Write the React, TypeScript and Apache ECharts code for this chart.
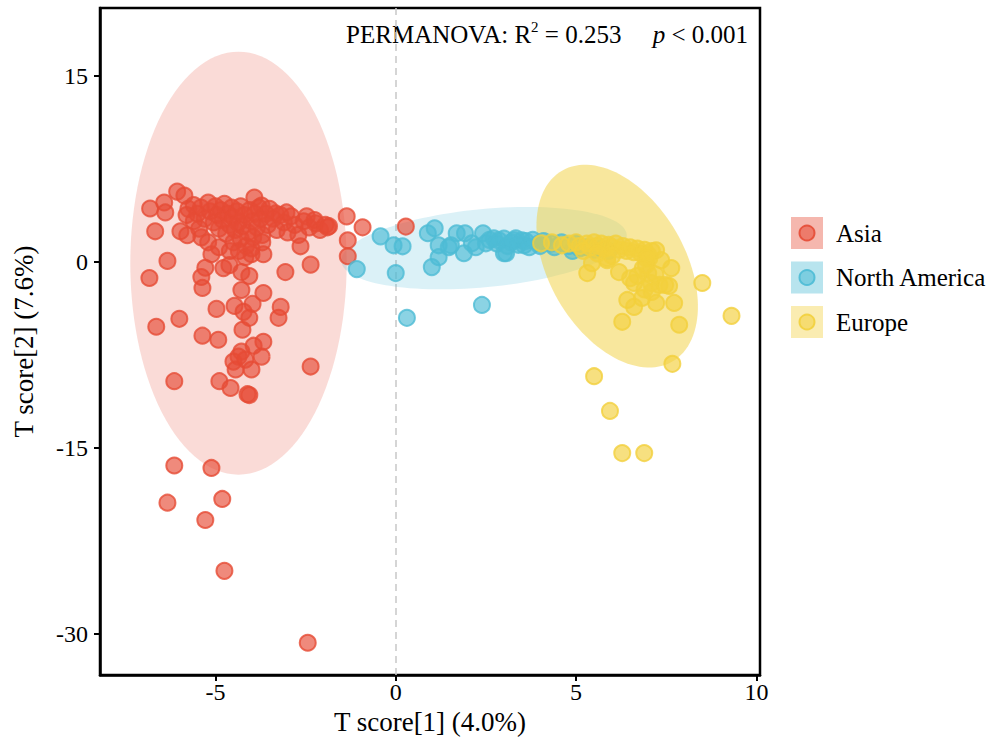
import React, { useEffect, useRef } from "react";
import * as echarts from "echarts";

const xTicks = [-5, 0, 5, 10];
const yTicks = [-30, -15, 0, 15];
const groups = ["Asia", "North America", "Europe"];
const baseRgb = ["230,75,53", "77,187,213", "242,208,60"];

const asiaPoints: number[][] = [
  [-6.06, 5.69], [-5.86, 5.37], [-6.81, 4.33], [-6.42, 4.81], [-6.39, 4.01], [-6.67, 2.49], [-6.33, 0.1], [-6.83, -1.28],
  [-5.97, 2.49], [-5.78, 2.17], [-5.39, 2.0], [-3.92, 5.21], [-3.72, 4.57], [-3.33, 3.93], [-3.03, 4.01], [-2.47, 3.69],
  [-2.22, 3.13], [-1.89, 2.81], [-1.36, 3.69], [-0.92, 2.81], [-1.33, 1.76], [-1.33, 0.48], [0.28, 2.87], [-2.64, 1.28],
  [-2.36, -0.2], [-3.06, -0.8], [-3.67, 0.64], [-4.0, 0.64], [-4.17, 0.4], [-5.11, 0.64], [-5.28, -0.45], [-5.39, -1.2],
  [-5.36, -2.08], [-4.78, -0.48], [-4.61, -0.24], [-4.28, -0.8], [-4.06, -1.12], [-4.28, -2.25], [-3.67, -2.49],
  [-4.47, -3.53], [-3.97, -3.37], [-4.97, -3.77], [-4.22, -4.01], [-4.06, -4.49], [-3.19, -3.61], [-3.25, -4.49],
  [-4.25, -5.45], [-6.0, -4.57], [-6.64, -5.21], [-5.36, -5.93], [-4.92, -6.26], [-3.67, -6.42], [-3.94, -6.74],
  [-4.28, -7.22], [-4.36, -7.62], [-4.5, -8.02], [-4.17, -7.86], [-3.72, -7.62], [-4.44, -8.66], [-4.0, -8.66],
  [-2.36, -8.42], [-6.14, -9.6], [-4.89, -9.6], [-4.58, -10.15], [-4.11, -10.65], [-4.06, -10.72],
  [-6.14, -16.4], [-5.11, -16.6], [-6.33, -19.4], [-4.81, -19.1], [-5.28, -20.8], [-4.75, -24.9], [-2.44, -30.7],
  [-5.75, 4.3], [-5.6, 4.6], [-5.5, 3.9], [-5.4, 4.4], [-5.3, 3.5], [-5.2, 4.8], [-5.15, 4.1], [-5.05, 3.2],
  [-5.0, 4.5], [-4.95, 3.8], [-4.9, 2.7], [-4.85, 4.2], [-4.8, 3.4], [-4.75, 4.7], [-4.7, 2.3], [-4.65, 3.9],
  [-4.6, 3.0], [-4.55, 4.4], [-4.5, 1.6], [-4.5, 3.6], [-4.45, 2.6], [-4.4, 4.1], [-4.35, 3.2], [-4.3, 1.9],
  [-4.3, 4.5], [-4.25, 2.9], [-4.2, 3.8], [-4.15, 1.3], [-4.1, 2.4], [-4.05, 4.2], [-4.0, 3.3], [-3.95, 2.0],
  [-3.9, 3.9], [-3.85, 2.8], [-3.8, 4.4], [-3.75, 3.5], [-3.7, 2.2], [-3.6, 3.9], [-3.55, 3.0], [-3.5, 4.3],
  [-3.4, 3.5], [-3.3, 2.6], [-3.2, 3.8], [-3.1, 3.2], [-3.0, 2.4], [-2.9, 3.7], [-2.8, 3.0], [-2.7, 2.2],
  [-2.55, 3.3], [-2.4, 2.8], [-2.25, 3.4], [-2.1, 2.6], [-1.95, 3.0], [-1.85, 2.9], [-5.6, 3.3], [-5.8, 3.8],
  [-5.45, 2.7], [-4.6, 0.9], [-4.35, 0.9], [-4.0, 1.1], [-3.7, 1.6], [-5.2, 1.6], [-4.9, 1.2],
];

const naPoints: number[][] = [
  [-0.42, 2.08], [-1.08, -0.56], [-0.06, 1.36], [0.19, 1.28], [0.0, -0.88], [0.31, -4.49], [0.89, 2.33], [1.08, 2.73],
  [1.19, 1.36], [1.19, 0.4], [1.0, -0.4], [1.53, 1.36], [1.69, 2.33], [1.92, 2.33], [1.89, 0.72], [2.11, 1.52],
  [2.42, 2.33], [2.5, 1.52], [2.72, 1.92], [3.0, 0.72], [3.28, 1.76], [3.5, 1.76], [3.56, 1.36], [2.39, -3.45],
  [1.47, 1.2], [2.22, 1.2], [2.86, 1.76], [3.06, 0.72], [3.33, 1.92], [3.97, 1.52],
  [2.6, 1.8], [2.8, 1.5], [3.0, 1.9], [3.1, 1.3], [3.2, 1.6], [3.4, 1.4], [3.6, 1.7], [3.7, 1.2], [3.8, 1.8],
  [4.0, 1.3], [4.1, 1.7], [4.3, 1.5], [4.4, 1.2], [4.6, 1.6], [4.8, 1.3], [5.0, 1.5], [5.1, 1.1], [4.9, 0.9],
  [5.3, 1.2], [5.5, 1.0], [5.7, 1.1], [5.9, 0.9],
];

const euPoints: number[][] = [
  [4.03, 1.52], [4.33, 1.6], [4.61, 1.36], [5.44, -0.08], [5.31, -0.88], [5.86, 0.16], [6.19, -0.8], [7.22, 0.96],
  [7.36, 0.16], [7.64, -0.48], [6.94, -0.24], [6.61, -1.68], [7.08, -1.68], [7.31, -1.84], [7.58, -1.92],
  [6.42, -3.05], [6.61, -3.61], [6.83, -2.89], [7.22, -3.29], [7.72, -3.29], [6.28, -4.81], [7.86, -5.05],
  [8.5, -1.68], [9.31, -4.33], [7.67, -8.2], [5.5, -9.2], [5.94, -12.0], [6.28, -15.4], [6.89, -15.4],
  [5.86, 0.32], [7.03, 0.32], [7.47, -1.84],
  [4.8, 1.5], [5.0, 1.6], [5.1, 1.3], [5.3, 1.5], [5.4, 1.2], [5.5, 1.6], [5.6, 1.3], [5.7, 1.5], [5.8, 1.1],
  [5.9, 1.4], [6.0, 1.2], [6.1, 1.5], [6.2, 1.0], [6.3, 1.3], [6.4, 0.9], [6.5, 1.2], [6.6, 0.8], [6.7, 1.1],
  [6.8, 0.7], [6.9, 1.0], [7.0, 0.6], [7.1, 0.9], [6.95, 0.3], [6.85, -0.5], [7.0, -0.9], [6.7, -1.1],
  [6.9, -2.2], [7.2, -1.0], [7.1, -2.4], [6.5, -1.3], [6.0, 0.5], [5.2, 0.9], [5.6, 0.7],
];

// confidence ellipses: [centerX, centerY, axisA_x, axisA_y, axisB_x, axisB_y] in data units
const asiaEllipse = [-4.36, -0.08, 3.0, 0, 0, 17.06];
const naEllipse = [2.45, 1.13, 3.955, 1.09, 0.1, -3.14];
const euEllipse = [6.14, -0.32, 1.528, -7.7, 1.636, 2.75];
const ellipseAlpha = [0.2, 0.2, 0.5];

const FONT = "'Liberation Serif', 'Times New Roman', serif";

export default function App() {
  const ref = useRef<HTMLDivElement>(null);
  useEffect(() => {
    if (!ref.current) return;
    const chart = echarts.init(ref.current, null, { renderer: "svg" });
    const pointSets = [asiaPoints, naPoints, euPoints];
    const ellipseData = [asiaEllipse, naEllipse, euEllipse];

    const scatterSeries = groups.map((g, i) => ({
      name: g,
      type: "scatter",
      data: pointSets[i],
      symbol: "circle",
      symbolSize: 16,
      z: 3,
      itemStyle: {
        color: `rgba(${baseRgb[i]},0.65)`,
        borderColor: `rgba(${baseRgb[i]},0.8)`,
        borderWidth: 2,
        opacity: 1,
      },
      ...(i === 0
        ? {
            markLine: {
              silent: true,
              symbol: ["none", "none"],
              label: { show: false },
              lineStyle: { color: "#c8c8c8", type: [7, 5], width: 1.5 },
              data: [{ xAxis: 0 }],
              z: 1,
            },
          }
        : {}),
    }));

    const legendGraphics: any[] = [];
    groups.forEach((g, i) => {
      const cy = 233 + i * 44.5;
      legendGraphics.push({
        type: "rect",
        shape: { x: 791, y: cy - 16, width: 32, height: 32 },
        style: { fill: `rgba(${baseRgb[i]},0.4)` },
      });
      legendGraphics.push({
        type: "circle",
        shape: { cx: 807, cy, r: 7.5 },
        style: { fill: `rgba(${baseRgb[i]},0.55)`, stroke: `rgba(${baseRgb[i]},0.9)`, lineWidth: 2 },
      });
      legendGraphics.push({
        type: "text",
        x: 836,
        y: cy,
        style: { text: g, font: `25px ${FONT}`, fill: "#000", textVerticalAlign: "middle", verticalAlign: "middle" },
      });
    });

    chart.setOption({
      animation: false,
      backgroundColor: "#fff",
      grid: { left: 100, right: 234, top: 8, bottom: 72, show: true, borderColor: "#000", borderWidth: 2.5, containLabel: false },
      xAxis: {
        type: "value",
        min: -8.2,
        max: 10.1,
        name: "T score[1] (4.0%)",
        nameLocation: "middle",
        nameGap: 32,
        nameTextStyle: { fontFamily: FONT, fontSize: 27, color: "#000" },
        splitLine: { show: false },
        axisLine: { onZero: false, lineStyle: { color: "#000", width: 2.5 } },
        axisTick: { show: true, inside: false, length: 6, customValues: xTicks, lineStyle: { color: "#000", width: 2 } },
        axisLabel: { customValues: xTicks, margin: 5, fontFamily: FONT, fontSize: 24, color: "#000" },
      },
      yAxis: {
        type: "value",
        min: -33.3,
        max: 20.5,
        name: "T score[2] (7.6%)",
        nameLocation: "middle",
        nameGap: 63,
        nameTextStyle: { fontFamily: FONT, fontSize: 27, color: "#000" },
        splitLine: { show: false },
        axisLine: { onZero: false, lineStyle: { color: "#000", width: 2.5 } },
        axisTick: { show: true, inside: false, length: 6, customValues: yTicks, lineStyle: { color: "#000", width: 2 } },
        axisLabel: { customValues: yTicks, margin: 12, fontFamily: FONT, fontSize: 24, color: "#000" },
      },
      graphic: [
        {
          type: "text",
          right: 994 - 748,
          top: 19,
          style: {
            text: "{a|PERMANOVA: R}{s|2}{a| = 0.253     }{i|p}{a| < 0.001}",
            rich: {
              a: { fontFamily: FONT, fontSize: 25, lineHeight: 30, fill: "#000" },
              s: { fontFamily: FONT, fontSize: 15, lineHeight: 30, verticalAlign: "top", padding: [0, 0, 6, 0], fill: "#000" },
              i: { fontFamily: FONT, fontSize: 25, lineHeight: 30, fontStyle: "italic", fill: "#000" },
            },
          },
        },
        ...legendGraphics,
      ],
      series: [
        {
          type: "custom",
          name: "ellipses",
          silent: true,
          z: 1,
          data: ellipseData,
          renderItem: (params: any, api: any) => {
            const v = [0, 1, 2, 3, 4, 5].map((k) => api.value(k));
            const pts: number[][] = [];
            const n = 120;
            for (let k = 0; k < n; k++) {
              const t = (k / n) * Math.PI * 2;
              pts.push(
                api.coord([
                  v[0] + Math.cos(t) * v[2] + Math.sin(t) * v[4],
                  v[1] + Math.cos(t) * v[3] + Math.sin(t) * v[5],
                ])
              );
            }
            const i = params.dataIndex;
            return {
              type: "polygon",
              shape: { points: pts },
              style: { fill: `rgba(${baseRgb[i]},${ellipseAlpha[i]})`, stroke: "none" },
            };
          },
        },
        ...scatterSeries,
      ],
    });
    return () => chart.dispose();
  }, []);
  return <div ref={ref} style={{ position: "fixed", left: 0, top: 0, width: 994, height: 747 }} />;
}
